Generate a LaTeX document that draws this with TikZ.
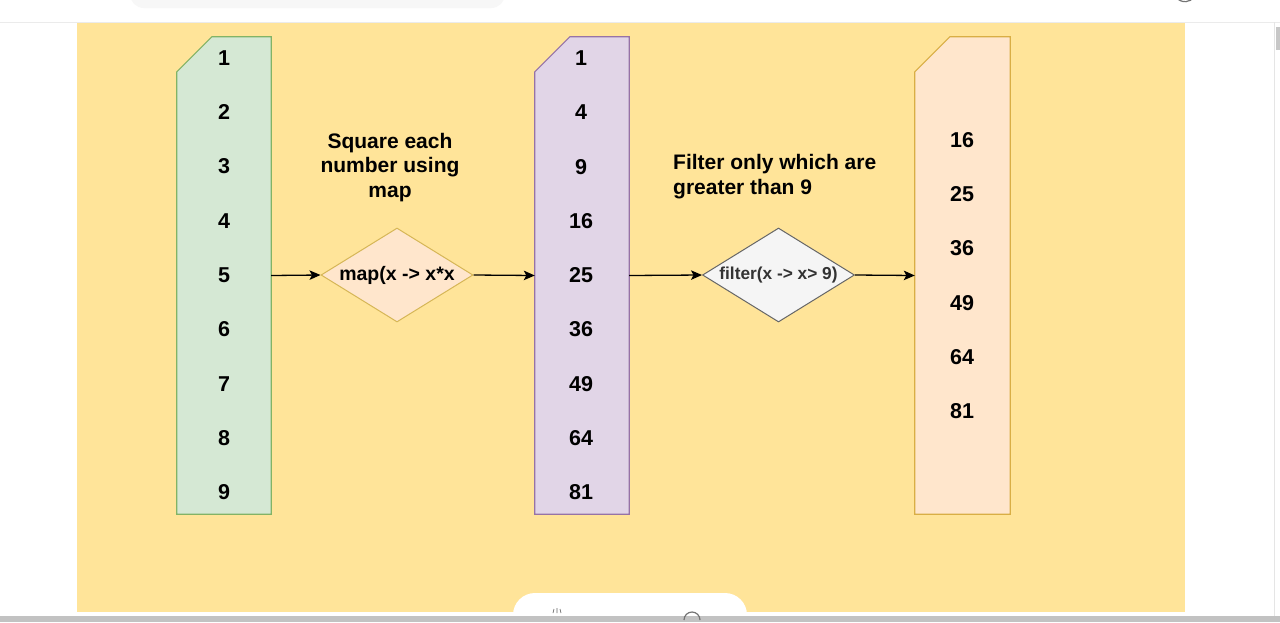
\documentclass[tikz,border=0pt]{standalone}
\usepackage{fontspec}
\setmainfont{Liberation Sans}
\usetikzlibrary{shapes.geometric,arrows.meta,calc}
\definecolor{bgyellow}{HTML}{FFE499}
\definecolor{gfill}{HTML}{D5E8D4}\definecolor{gline}{HTML}{82B366}
\definecolor{pfill}{HTML}{E1D5E7}\definecolor{pline}{HTML}{9673A6}
\definecolor{ofill}{HTML}{FFE6CC}\definecolor{oline}{HTML}{D9AE45}
\definecolor{dline}{HTML}{D6B656}
\definecolor{wfill}{HTML}{F5F5F5}\definecolor{wline}{HTML}{666666}
\definecolor{wtext}{HTML}{333333}
\tikzset{
  colbox/.style={minimum width=94pt, minimum height=477pt, inner sep=0pt, draw=none},
  numlbl/.style={font=\bfseries\fontsize{21.5}{24}\selectfont, inner sep=0pt},
  decision/.style={diamond, aspect=1.617, inner sep=0pt, minimum width=152pt, minimum height=94pt, line width=1pt},
  flow/.style={line width=1.3pt, -{Stealth[length=11pt,width=9.5pt,inset=2.5pt]}},
  titletext/.style={font=\bfseries\fontsize{21}{24.5}\selectfont, inner sep=0pt},
}
\newcommand{\cardpath}[3]{%
  \draw[fill=#2, draw=#3, line width=1.2pt, line join=miter]
    (#1.south west) -- ([yshift=-35pt]#1.north west) -- ([xshift=35pt]#1.north west)
    -- (#1.north east) -- (#1.south east) -- cycle;}
\begin{document}
\begin{tikzpicture}[x=1pt,y=-1pt]
\useasboundingbox (0,0) rectangle (1280,622);
\fill[white] (0,0) rectangle (1280,622);
% screenshot surroundings
\fill[bgyellow] (77,22) rectangle (1185,612);
\draw[black!8, line width=0.8pt] (0,22) -- (1280,22);
\fill[black!3, rounded corners=14pt] (130,-22) rectangle (505,8);
\draw[black!55, line width=1.2pt] (1176,-3) arc[start angle=215, end angle=325, radius=11pt];
\draw[black!10, line width=0.8pt] (1274,22) -- (1274,616);
\fill[black!22] (1276,27) rectangle (1280,50);
\fill[white, rounded corners=22pt] (513,593) rectangle (747,650);
\fill[black!24] (0,616) rectangle (1280,622);
\draw[black!60, line width=0.7pt] (553,613) -- (554,609) (557,613) -- (557,608) (561,613) -- (560,609);
\draw[black!55, line width=1.2pt] (684,620) arc[start angle=180, end angle=0, radius=8pt];
% columns
\node[colbox] (c1) at (224,275.5) {};
\node[colbox] (c2) at (582,275.5) {};
\node[colbox, minimum width=95pt] (c3) at (962.5,275.5) {};
\cardpath{c1}{gfill}{gline}
\cardpath{c2}{pfill}{pline}
\cardpath{c3}{ofill}{oline}
% numbers
\foreach \v [count=\i] in {1,...,9}
  \node[numlbl] (a\i) at (224,{58+54.3*(\i-1)}) {\v};
\foreach \v [count=\i] in {1,4,9,16,25,36,49,64,81}
  \node[numlbl] (b\i) at (581,{58+54.3*(\i-1)}) {\v};
\foreach \v [count=\i] in {16,25,36,49,64,81}
  \node[numlbl] (r\i) at (962,{140+54.2*(\i-1)}) {\v};
% decisions
\node[decision, fill=ofill, draw=dline, font=\bfseries\fontsize{19.5}{22}\selectfont] (d1) at (397,275) {map(x -> x*x};
\node[decision, fill=wfill, draw=wline, text=wtext, font=\bfseries\fontsize{17.3}{20}\selectfont] (d2) at (778.5,275) {filter(x -> x> 9)};
% titles
\node[titletext, align=center] (t1) at (390,167.5) {Square each\\number using\\map};
\node[titletext, align=left, anchor=west] (t2) at (673,176.5) {Filter only which are\\greater than 9};
% connectors
\draw[flow] (c1.east) -- (d1.west);
\draw[flow] (d1.east) -- (c2.west);
\draw[flow] (c2.east) -- (d2.west);
\draw[flow] (d2.east) -- (c3.west);
\end{tikzpicture}
\end{document}
